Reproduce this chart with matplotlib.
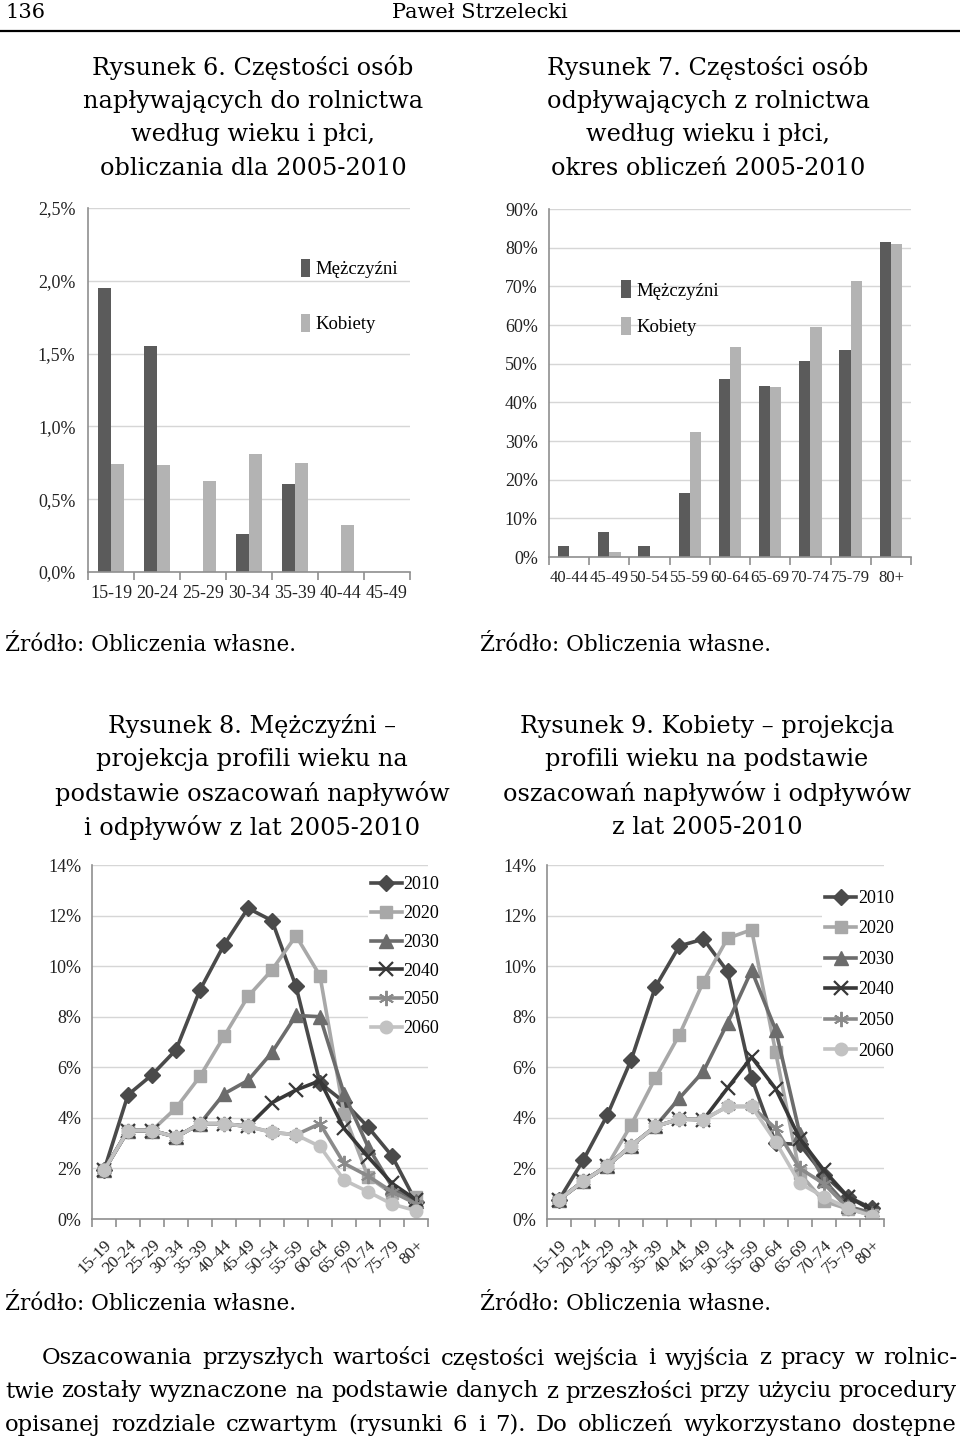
import numpy as np
import matplotlib
matplotlib.use("Agg")
import matplotlib.pyplot as plt
from matplotlib.ticker import FixedLocator, FuncFormatter

# ---- data ----
ages6 = ["15-19", "20-24", "25-29", "30-34", "35-39", "40-44", "45-49"]
men6 = [1.95, 1.555, 0.0, 0.26, 0.605, 0.0, 0.0]
women6 = [0.745, 0.738, 0.626, 0.812, 0.75, 0.326, 0.0]

ages7 = ["40-44", "45-49", "50-54", "55-59", "60-64", "65-69", "70-74", "75-79", "80+"]
men7 = [2.9, 6.5, 2.8, 16.6, 46.1, 44.3, 50.7, 53.5, 81.4]
women7 = [0.0, 1.2, 0.0, 32.4, 54.4, 44.0, 59.4, 71.4, 81.0]

ages = ["15-19", "20-24", "25-29", "30-34", "35-39", "40-44", "45-49",
        "50-54", "55-59", "60-64", "65-69", "70-74", "75-79", "80+"]
years = ["2010", "2020", "2030", "2040", "2050", "2060"]

m2010 = [1.92, 4.91, 5.70, 6.69, 9.06, 10.84, 12.29, 11.8, 9.2, 5.38, 4.63, 3.64, 2.49, 0.68]
m2020 = [1.92, 3.5, 3.5, 4.39, 5.64, 7.22, 8.8, 9.85, 11.2, 9.62, 4.17, 1.67, 1.01, 0.88]
m2030 = [1.92, 3.5, 3.5, 3.24, 3.77, 4.95, 5.48, 6.59, 8.05, 8.0, 4.96, 2.86, 1.28, 0.7]
m2040 = [1.92, 3.5, 3.5, 3.24, 3.77, 3.77, 3.66, 4.6, 5.1, 5.47, 3.58, 2.46, 1.41, 0.76]
m2050 = [1.92, 3.5, 3.5, 3.24, 3.77, 3.77, 3.66, 3.43, 3.33, 3.77, 2.2, 1.7, 1.08, 0.6]
m2060 = [1.92, 3.5, 3.5, 3.24, 3.77, 3.77, 3.66, 3.43, 3.33, 2.87, 1.54, 1.08, 0.59, 0.33]

k2010 = [0.76, 2.32, 4.1, 6.3, 9.17, 10.8, 11.07, 9.79, 5.57, 3.0, 2.95, 1.75, 0.88, 0.42]
k2020 = [0.76, 1.49, 2.1, 3.73, 5.57, 7.29, 9.39, 11.1, 11.44, 6.59, 1.8, 0.7, 0.4, 0.15]
k2030 = [0.76, 1.49, 2.1, 2.9, 3.66, 4.78, 5.84, 7.75, 9.83, 7.48, 3.38, 1.54, 0.5, 0.24]
k2040 = [0.76, 1.49, 2.1, 2.9, 3.66, 3.95, 3.93, 5.18, 6.4, 5.15, 3.18, 1.93, 0.88, 0.35]
k2050 = [0.76, 1.49, 2.1, 2.9, 3.66, 3.95, 3.93, 4.45, 4.45, 3.58, 2.0, 1.4, 0.43, 0.17]
k2060 = [0.76, 1.49, 2.1, 2.9, 3.66, 3.95, 3.93, 4.45, 4.45, 3.05, 1.41, 0.88, 0.43, 0.12]

men_lines = [m2010, m2020, m2030, m2040, m2050, m2060]
women_lines = [k2010, k2020, k2030, k2040, k2050, k2060]

# ---- styles ----
W, H = 960, 1445
TXT = "DejaVu Serif"
plt.rcParams["font.family"] = ["Liberation Serif", "DejaVu Serif"]
MEN_C = "#5b5b5b"
WOM_C = "#b3b3b3"
line_styles = [
    dict(color="#4a4a4a", marker="D", ms=8.5),
    dict(color="#a8a8a8", marker="s", ms=9),
    dict(color="#6c6c6c", marker="^", ms=9.5),
    dict(color="#383838", marker="x", ms=10, mew=1.6),
    dict(color="#8a8a8a", marker=(6, 2, 0), ms=11, mew=1.4),
    dict(color="#c2c2c2", marker="o", ms=9),
]

fig = plt.figure(figsize=(W / 100, H / 100), dpi=100)


def box(x0, y0, x1, y1):
    return [x0 / W, 1 - y1 / H, (x1 - x0) / W, (y1 - y0) / H]


def ftext(x, y, s, **kw):
    kw.setdefault("family", TXT)
    kw.setdefault("fontsize", 16.5)
    kw.setdefault("va", "center")
    return fig.text(x / W, 1 - y / H, s, **kw)


def justify(line, x0, x1, y, size=16.5):
    words = line.split(" ")
    texts = [ftext(0, y, w, fontsize=size) for w in words]
    rend = fig.canvas.get_renderer()
    widths = [t.get_window_extent(rend).width for t in texts]
    gap = (x1 - x0 - sum(widths)) / (len(words) - 1)
    x = x0
    for t, w in zip(texts, widths):
        t.set_x(x / W)
        x += w + gap


def style_axes(ax, n, size, ypad):
    ax.set_xlim(-0.5, n - 0.5)
    for s in ["top", "right"]:
        ax.spines[s].set_visible(False)
    for s in ["left", "bottom"]:
        ax.spines[s].set_color("#8f8f8f")
        ax.spines[s].set_linewidth(1.2)
    ax.yaxis.grid(True, color="#d6d6d6", lw=1)
    ax.set_axisbelow(True)
    ax.xaxis.set_minor_locator(FixedLocator(np.arange(n + 1) - 0.5))
    ax.tick_params(axis="x", which="major", length=0, pad=9, labelsize=size)
    ax.tick_params(axis="x", which="minor", length=6, color="#8f8f8f", width=1.2)
    ax.tick_params(axis="y", length=0, pad=ypad, labelsize=13)
    ax.tick_params(labelcolor="#222222")


# ---- header ----
ftext(5, 12, "136", fontsize=15)
ftext(480, 12, "Paweł Strzelecki", ha="center", fontsize=15)
fig.add_artist(plt.Line2D([0, 1], [1 - 31 / H, 1 - 31 / H], color="black", lw=1.6))

# ---- titles ----
t6 = ["Rysunek 6. Częstości osób", "napływających do rolnictwa",
      "według wieku i płci,", "obliczania dla 2005-2010"]
t7 = ["Rysunek 7. Częstości osób", "odpływających z rolnictwa",
      "według wieku i płci,", "okres obliczeń 2005-2010"]
t8 = ["Rysunek 8. Mężczyźni –", "projekcja profili wieku na",
      "podstawie oszacowań napływów", "i odpływów z lat 2005-2010"]
t9 = ["Rysunek 9. Kobiety – projekcja", "profili wieku na podstawie",
      "oszacowań napływów i odpływów", "z lat 2005-2010"]
for i in range(4):
    ftext(253, 68 + 33.5 * i, t6[i], ha="center", fontsize=17.3)
    ftext(708, 68 + 33.5 * i, t7[i], ha="center", fontsize=17.3)
    ftext(252, 726 + 34 * i, t8[i], ha="center", fontsize=17.3)
    ftext(707, 726 + 34 * i, t9[i], ha="center", fontsize=17.3)

for y in [645, 1304]:
    ftext(5, y, "Źródło: Obliczenia własne.", fontsize=15.5)
    ftext(480, y, "Źródło: Obliczenia własne.", fontsize=15.5)

body = ["Oszacowania przyszłych wartości częstości wejścia i wyjścia z pracy w rolnic-",
        "twie zostały wyznaczone na podstawie danych z przeszłości przy użyciu procedury",
        "opisanej rozdziale czwartym (rysunki 6 i 7). Do obliczeń wykorzystano dostępne"]
for i, line in enumerate(body):
    justify(line, 42 if i == 0 else 5, 957, 1358 + 33.5 * i, size=16.4)

# ---- Rysunek 6 ----
ax6 = fig.add_axes(box(88, 208, 410, 572))
x6 = np.arange(len(ages6))
bw = 0.28
b1 = ax6.bar(x6 - bw / 2, men6, bw, color=MEN_C, label="Mężczyźni")
b2 = ax6.bar(x6 + bw / 2, women6, bw, color=WOM_C, label="Kobiety")
ax6.set_ylim(0, 2.5)
ax6.set_yticks(np.arange(0, 2.51, 0.5))
ax6.yaxis.set_major_formatter(FuncFormatter(lambda v, p: f"{v:.1f}%".replace(".", ",")))
ax6.set_xticks(x6, ages6)
style_axes(ax6, len(ages6), 13, 9)
ax6.legend(handles=[b1, b2], loc="upper left", bbox_to_anchor=(0.66, 0.86),
           frameon=False, handlelength=0.5, handleheight=1.1, handletextpad=0.3,
           labelspacing=1.9, borderpad=0, borderaxespad=0, prop={"size": 13.5})

# ---- Rysunek 7 ----
ax7 = fig.add_axes(box(549, 209, 911, 557))
x7 = np.arange(len(ages7))
b1 = ax7.bar(x7 - bw / 2, men7, bw, color=MEN_C, label="Mężczyźni")
b2 = ax7.bar(x7 + bw / 2, women7, bw, color=WOM_C, label="Kobiety")
ax7.set_ylim(0, 90)
ax7.set_yticks(np.arange(0, 91, 10))
ax7.yaxis.set_major_formatter(FuncFormatter(lambda v, p: f"{v:.0f}%"))
ax7.set_xticks(x7, ages7)
style_axes(ax7, len(ages7), 12, 8)
ax7.legend(handles=[b1, b2], loc="upper left", bbox_to_anchor=(0.2, 0.795),
           frameon=False, handlelength=0.5, handleheight=1.1, handletextpad=0.3,
           labelspacing=0.9, borderpad=0, borderaxespad=0, prop={"size": 13.5})


# ---- Rysunek 8 / 9 ----
def line_chart(ax, series, leg_x, leg_y, spacing):
    xs = np.arange(len(ages))
    for yr, vals, st in zip(years, series, line_styles):
        ax.plot(xs, vals, lw=2.6, label=yr, mec=st["color"], **st)
    ax.set_ylim(0, 14)
    ax.set_yticks(np.arange(0, 15, 2))
    ax.yaxis.set_major_formatter(FuncFormatter(lambda v, p: f"{v:.0f}%"))
    ax.set_xticks(xs, ages, rotation=45, ha="right", va="top", rotation_mode="anchor")
    style_axes(ax, len(ages), 12.5, 7.5)
    ax.tick_params(axis="x", which="major", pad=13)
    leg = ax.legend(loc="upper left", bbox_to_anchor=(leg_x, leg_y), frameon=True,
                    facecolor="white", edgecolor="none", framealpha=1,
                    handlelength=1.7, handletextpad=0.1, labelspacing=spacing,
                    borderpad=0.2, borderaxespad=0, prop={"size": 13})
    leg.get_frame().set_boxstyle("square", pad=0)


ax8 = fig.add_axes(box(92, 865, 428, 1219))
line_chart(ax8, men_lines, 0.82, 0.978, 0.65)
ax9 = fig.add_axes(box(547, 865, 884, 1219))
line_chart(ax9, women_lines, 0.815, 0.94, 0.75)

fig.savefig("out.png", dpi=100)
